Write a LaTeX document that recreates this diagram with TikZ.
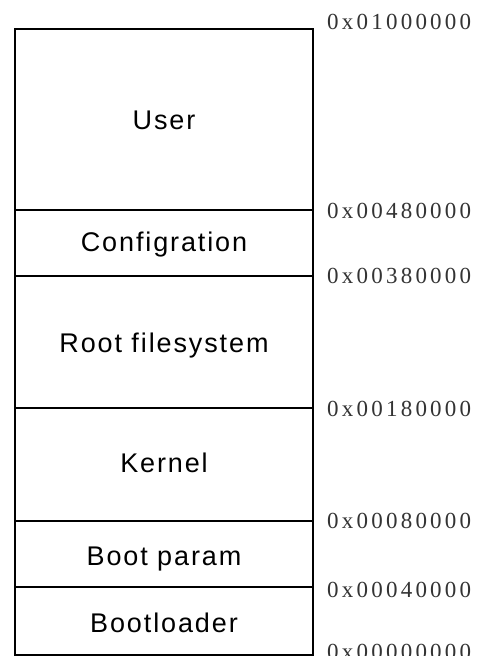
\documentclass[tikz,border=0pt]{standalone}
\usepackage{fontspec}
\setmainfont{Liberation Serif}
\newfontfamily\boxfont[LetterSpace=7]{Liberation Sans}
\newfontfamily\addrfont[LetterSpace=14]{Liberation Serif}
\begin{document}
\begin{tikzpicture}[x=1pt,y=-1pt,
  frame/.style={draw=black,line width=2pt},
  divider/.style={draw=black,line width=1.3pt},
  region/.style={anchor=base,inner sep=0pt,font=\boxfont\fontsize{27}{30}\selectfont},
  addr/.style={anchor=base west,inner sep=0pt,text=black!80,font=\addrfont\fontsize{23}{26}\selectfont}]
\useasboundingbox (0,0) rectangle (487,656);
\fill[white] (0,0) rectangle (487,656);
% frame
\coordinate (tl) at (14.5,29);
\coordinate (br) at (312.5,655);
\draw[frame] (tl) rectangle (br);
% dividers
\foreach \y/\n in {210/d1,276/d2,408/d3,521/d4,587/d5}{
  \coordinate (\n l) at (14.5,\y);
  \coordinate (\n r) at (312.5,\y);
  \draw[divider] (\n l) -- (\n r);
}
% region labels
\node[region] (user) at (164,129.5) {User};
\node[region] (conf) at (164,251.5) {Configration};
\node[region] (root) at (164,352) {Root filesystem};
\node[region] (kern) at (164,472) {Kernel};
\node[region] (bparam) at (164,565) {Boot param};
\node[region] (bload) at (164,632) {Bootloader};
% addresses
\node[addr] (a1) at (327,29) {0x01000000};
\node[addr] (a2) at (327,218) {0x00480000};
\node[addr] (a3) at (327,283) {0x00380000};
\node[addr] (a4) at (327,416) {0x00180000};
\node[addr] (a5) at (327,528) {0x00080000};
\node[addr] (a6) at (327,597) {0x00040000};
\node[addr] (a7) at (327,659) {0x00000000};
\end{tikzpicture}
\end{document}
